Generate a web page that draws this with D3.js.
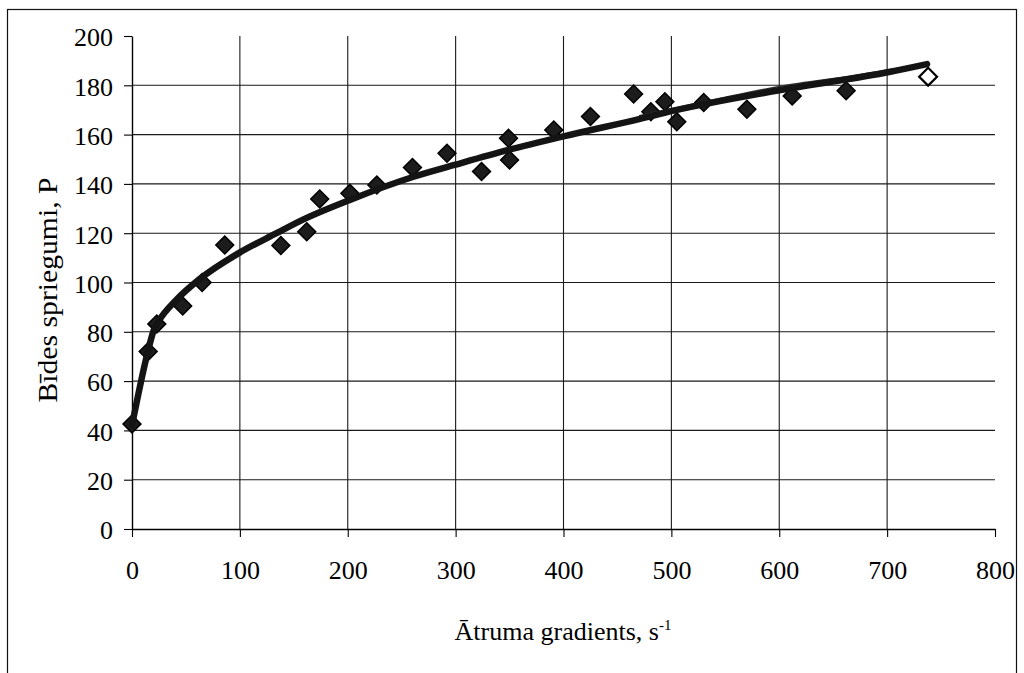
<!DOCTYPE html>
<html>
<head>
<meta charset="utf-8">
<script src="https://cdn.jsdelivr.net/npm/d3@7"></script>
<style>
  html, body { margin: 0; padding: 0; background: #fff; }
  svg { display: block; }
</style>
</head>
<body>
<svg id="chart" width="1024" height="673"></svg>
<script>
// ---- data ----
const xTicks = [0, 100, 200, 300, 400, 500, 600, 700, 800];
const yTicks = [0, 20, 40, 60, 80, 100, 120, 140, 160, 180, 200];

// measured points: shear rate (s^-1) and shear stress (P)
const shearRate = [0, 15, 23, 47, 65, 86, 138, 162, 174, 202, 227, 260, 292, 324, 349, 350, 391, 425, 465, 481, 494, 505, 530, 570, 612, 662, 738];
const stress    = [42.6, 72, 83.2, 90.5, 100, 115.2, 115, 120.6, 133.9, 136.2, 139.6, 146.7, 152.4, 145, 158.5, 149.7, 161.9, 167.3, 176.5, 169.3, 173.3, 165.2, 173, 170.3, 175.7, 177.8, 183.5];

// thick fitted curve
const fitX = [0, 15, 20, 25, 41, 63, 98.5, 134, 158, 202, 261, 299, 349, 401, 471, 502, 604, 703, 737];
const fitY = [42, 72.5, 80.5, 84.5, 92.9, 101.5, 111.8, 120, 125.4, 133.5, 142.9, 147.7, 153.8, 159.4, 166.4, 169.7, 178.3, 185.5, 188.6];

// thin second curve (visible at the right end)
const fit2X = [470, 540, 600, 675, 737];
const fit2Y = [167.6, 174.2, 179.5, 184.3, 189];

const xTitle = "Ātruma gradients, s";
const xTitleSup = "-1";
const yTitle = "Bīdes spriegumi, P";

const FONT = "'Liberation Serif', 'Times New Roman', Times, serif";

// ---- drawing ----
const svg = d3.select("#chart");
const x = d3.scaleLinear().domain([0, 800]).range([132, 995]);
const y = d3.scaleLinear().domain([0, 200]).range([529, 36]);

// outer frame
svg.append("rect")
  .attr("x", 7.5).attr("y", 9.5).attr("width", 1009).attr("height", 720)
  .attr("fill", "none").attr("stroke", "#111").attr("stroke-width", 1.2);

// gridlines
const grid = svg.append("g").attr("stroke", "#1a1a1a").attr("stroke-width", 1.1);
grid.selectAll("line.h").data(yTicks.filter(v => v > 0 && v < 200)).join("line")
  .attr("class", "h")
  .attr("x1", x(0)).attr("x2", x(800))
  .attr("y1", d => y(d)).attr("y2", d => y(d));
grid.selectAll("line.v").data(xTicks.filter(v => v > 0 && v < 800)).join("line")
  .attr("class", "v")
  .attr("y1", y(0)).attr("y2", y(200))
  .attr("x1", d => x(d)).attr("x2", d => x(d));

// axes
const yAxis = d3.axisLeft(y).tickValues(yTicks).tickSizeInner(8).tickSizeOuter(0).tickPadding(11);
const gy = svg.append("g").attr("transform", `translate(${x(0)},0)`).call(yAxis);
gy.attr("font-family", FONT);
gy.selectAll("text").style("font-family", FONT).style("font-size", "26px").attr("dy", "0.38em").attr("fill", "#000");

const xAxis = d3.axisBottom(x).tickValues(xTicks).tickSizeInner(8).tickSizeOuter(0).tickPadding(24);
const gx = svg.append("g").attr("transform", `translate(0,${y(0)})`).call(xAxis);
gx.attr("font-family", FONT);
gx.selectAll("text").style("font-family", FONT).style("font-size", "26px").attr("fill", "#000");

[gx, gy].forEach(g => {
  g.select(".domain").attr("stroke", "#000").attr("stroke-width", 1.4);
  g.selectAll(".tick line").attr("stroke", "#000").attr("stroke-width", 1.1);
});

// markers
const pts = shearRate.map((v, i) => ({ x: v, y: stress[i], last: i === shearRate.length - 1 }));
const sym = d3.symbol().type(d3.symbolSquare).size(160);
svg.append("g").selectAll("path").data(pts).join("path")
  .attr("d", sym)
  .attr("transform", d => `translate(${x(d.x)},${y(d.y)}) rotate(45)`)
  .attr("fill", d => d.last ? "#fff" : "#1c1c1c")
  .attr("stroke", "#000")
  .attr("stroke-width", d => d.last ? 2.2 : 1.5);

// curves
const line = d3.line().x(d => x(d[0])).y(d => y(d[1])).curve(d3.curveMonotoneX);
svg.append("path")
  .datum(fit2X.map((v, i) => [v, fit2Y[i]]))
  .attr("d", line)
  .attr("fill", "none").attr("stroke", "#333").attr("stroke-width", 1.6);
svg.append("path")
  .datum(fitX.map((v, i) => [v, fitY[i]]))
  .attr("d", line)
  .attr("fill", "none").attr("stroke", "#141414").attr("stroke-width", 6.5)
  .attr("stroke-linejoin", "round").attr("stroke-linecap", "round");

// axis titles
const xt = svg.append("text")
  .attr("x", 563).attr("y", 640)
  .attr("text-anchor", "middle")
  .style("font-family", FONT)
  .style("font-size", "26px");
xt.append("tspan").text(xTitle);
xt.append("tspan").attr("dy", "-10").style("font-size", "15px").text(xTitleSup);

svg.append("text")
  .attr("transform", "translate(57,290) rotate(-90)")
  .attr("text-anchor", "middle")
  .attr("textLength", 225).attr("lengthAdjust", "spacingAndGlyphs")
  .style("font-family", FONT)
  .style("font-size", "27px")
  .text(yTitle);
</script>
</body>
</html>
